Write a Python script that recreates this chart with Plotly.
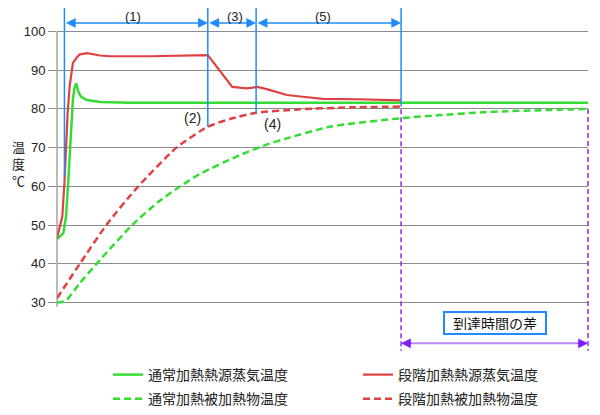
import plotly.graph_objects as go

# Time axis is unitless (0-100, no tick labels in the original), temperatures in °C
normal_steam_t = [0, 0.2, 1.2, 1.7, 2.1, 2.5, 2.8, 3.0, 3.3, 3.6, 3.8, 4.0, 4.5, 5.6, 8.1, 13.7, 100]
normal_steam_v = [46.6, 46.6, 47.9, 52.2, 60.8, 71.1, 78.9, 82.5, 85.5, 86.6, 85.6, 84.5, 83.2, 82.3, 81.8, 81.6, 81.6]

step_steam_t = [0, 0.2, 1.0, 1.4, 1.7, 2.0, 2.4, 2.8, 3.0, 3.8, 4.3, 5.7, 6.8, 8.1, 10.0, 17.5,
                28.4, 33.0, 35.8, 37.7, 39.5, 43.3, 45.8, 50.1, 56.5, 64.8]
step_steam_v = [46.6, 47.9, 52.2, 60.8, 71.1, 78.9, 86.0, 90.0, 91.9, 93.4, 94.1, 94.4, 94.1, 93.8, 93.6, 93.6,
                93.9, 85.7, 85.3, 85.7, 85.1, 83.6, 83.2, 82.6, 82.5, 82.2]

normal_work_t = [0, 0.9, 1.8, 4.3, 8.1, 14.3, 19.1, 23.2, 26.9, 34.5, 39.7, 43.3, 51.4, 64.8, 72.1, 79.7, 84.7, 100]
normal_work_v = [30.0, 30.1, 30.6, 35.0, 41.0, 50.2, 56.0, 60.0, 63.2, 68.1, 70.9, 72.4, 75.4, 77.6, 78.4, 79.1, 79.4, 80.0]

step_work_t = [0, 4.3, 9.4, 15.3, 22.5, 28.4, 32.6, 37.5, 45.8, 55.2, 64.8]
step_work_v = [31.1, 40.0, 50.2, 60.0, 70.0, 75.4, 77.4, 79.0, 79.9, 80.4, 80.6]

# phase boundaries (1)...(5) and the reach-time gap
phase_t = [1.4, 28.4, 37.5, 64.8]
phase_bottom = [62.5, 75.4, 79.0, 80.6]
phase_labels = ['(1)', '(3)', '(5)']
phase_label_t = [14.3, 33.5, 50.1]
point_labels = ['(2)', '(4)']
point_label_t = [25.6, 40.5]
point_label_v = [77.7, 76.1]
gap_label = '到達時間の差'
reach_normal_t = 100

GREEN = '#33dd33'
RED = '#e04040'
BLUE = '#1e8cff'
PURPLE = '#8a2be2'
GRID = '#8c8c8c'
JP = 'Noto Sans CJK JP'
NUM = 'Liberation Sans'

fig = go.Figure()
# green series go in the left legend column, red ones in the right column
fig.add_trace(go.Scatter(x=normal_steam_t, y=normal_steam_v, mode='lines', name='通常加熱熱源蒸気温度',
                         legend='legend', legendgroup='a',
                         line=dict(color=GREEN, width=2.5)))
fig.add_trace(go.Scatter(x=normal_work_t, y=normal_work_v, mode='lines', name='通常加熱被加熱物温度',
                         legend='legend', legendgroup='b',
                         line=dict(color=GREEN, width=2.5, dash='7px,4px', shape='spline', smoothing=0.6)))
fig.add_trace(go.Scatter(x=step_steam_t, y=step_steam_v, mode='lines', name='段階加熱熱源蒸気温度',
                         legend='legend2', legendgroup='c',
                         line=dict(color=RED, width=2.2)))
fig.add_trace(go.Scatter(x=step_work_t, y=step_work_v, mode='lines', name='段階加熱被加熱物温度',
                         legend='legend2', legendgroup='d',
                         line=dict(color=RED, width=2.5, dash='7px,4px', shape='spline', smoothing=0.6)))

shapes = []
annotations = []

# y axis line (drawn by hand so it stops at 100)
shapes.append(dict(type='line', xref='paper', yref='y', x0=0, x1=0, y0=28.9, y1=100,
                   line=dict(color=GRID, width=1.2)))

# blue phase lines and arrows
for t, bottom in zip(phase_t, phase_bottom):
    shapes.append(dict(type='line', xref='x', yref='y', x0=t, x1=t, y0=108, y1=bottom,
                       line=dict(color=BLUE, width=1.5)))
for i in range(len(phase_t) - 1):
    annotations.append(dict(x=phase_t[i + 1], y=102.2, ax=phase_t[i], ay=102.2, axref='x', ayref='y',
                            text='', showarrow=True, arrowside='end+start', arrowhead=2, startarrowhead=2,
                            arrowsize=1.3, startarrowsize=1.3, arrowwidth=1.5, arrowcolor=BLUE,
                            standoff=0, startstandoff=0))
for label, t in zip(phase_labels, phase_label_t):
    annotations.append(dict(x=t, yref='paper', y=1, yanchor='top', borderpad=0, text=label,
                            showarrow=False, font=dict(family=NUM, size=13, color='#222')))
for label, t, v in zip(point_labels, point_label_t, point_label_v):
    annotations.append(dict(x=t, y=v, text=label, showarrow=False,
                            font=dict(family=NUM, size=14, color='#222')))

# reach time difference
shapes.append(dict(type='line', xref='x', yref='y', x0=phase_t[-1], x1=phase_t[-1], y0=79.9, y1=17.5,
                   line=dict(color=PURPLE, width=1.5, dash='5px,3px')))
shapes.append(dict(type='line', xref='paper', yref='y', x0=1, x1=1, y0=80.0, y1=17.5,
                   line=dict(color=PURPLE, width=1.5, dash='5px,3px')))
shapes.append(dict(type='line', xref='x', yref='y', x0=phase_t[-1], x1=reach_normal_t, y0=19.45, y1=19.45,
                   line=dict(color='#bb88ff', width=2)))
for head, tail in [(phase_t[-1], phase_t[-1] + 2.2), (reach_normal_t, reach_normal_t - 2.2)]:
    annotations.append(dict(x=head, y=19.45, ax=tail, ay=19.45, axref='x', ayref='y', text='',
                            showarrow=True, arrowhead=2, arrowsize=1.3, arrowwidth=1.5,
                            arrowcolor='#7a1fff', standoff=0))
annotations.append(dict(x=82.4, y=24.6, text=gap_label, showarrow=False, bgcolor='white',
                        bordercolor=BLUE, borderwidth=2, borderpad=3, width=94, height=14,
                        font=dict(family=JP, size=14, color='#111')))

# y axis title
annotations.append(dict(xref='paper', yref='y', x=0, xshift=-39, xanchor='center', y=66,
                        text='温<br>度<br>℃', showarrow=False,
                        font=dict(family=JP, size=13, color='#222')))

legend_style = dict(orientation='v', xref='container', yref='container', y=0.1376,
                    xanchor='left', yanchor='top', traceorder='grouped', tracegroupgap=3,
                    font=dict(family=JP, size=14, color='#222'))

# the page adds an 8px body margin, so the figure is 8px smaller than the window
fig.update_layout(
    width=592, height=407,
    margin=dict(l=49, r=12, t=0, b=60, autoexpand=False),
    paper_bgcolor='white', plot_bgcolor='white',
    shapes=shapes, annotations=annotations,
    xaxis=dict(visible=False, range=[0, 100], automargin=False),
    yaxis=dict(range=[16.43, 106.07], tickvals=[30, 40, 50, 60, 70, 80, 90, 100], automargin=False,
               showgrid=True, gridcolor=GRID, gridwidth=1, zeroline=False, showline=False,
               ticks='outside', ticklen=8, tickcolor=GRID, tickwidth=1,
               tickfont=dict(family=NUM, size=13, color='#222')),
    legend=dict(legend_style, x=0.1689),
    legend2=dict(legend_style, x=0.5912),
)

fig.write_html("out.html")
